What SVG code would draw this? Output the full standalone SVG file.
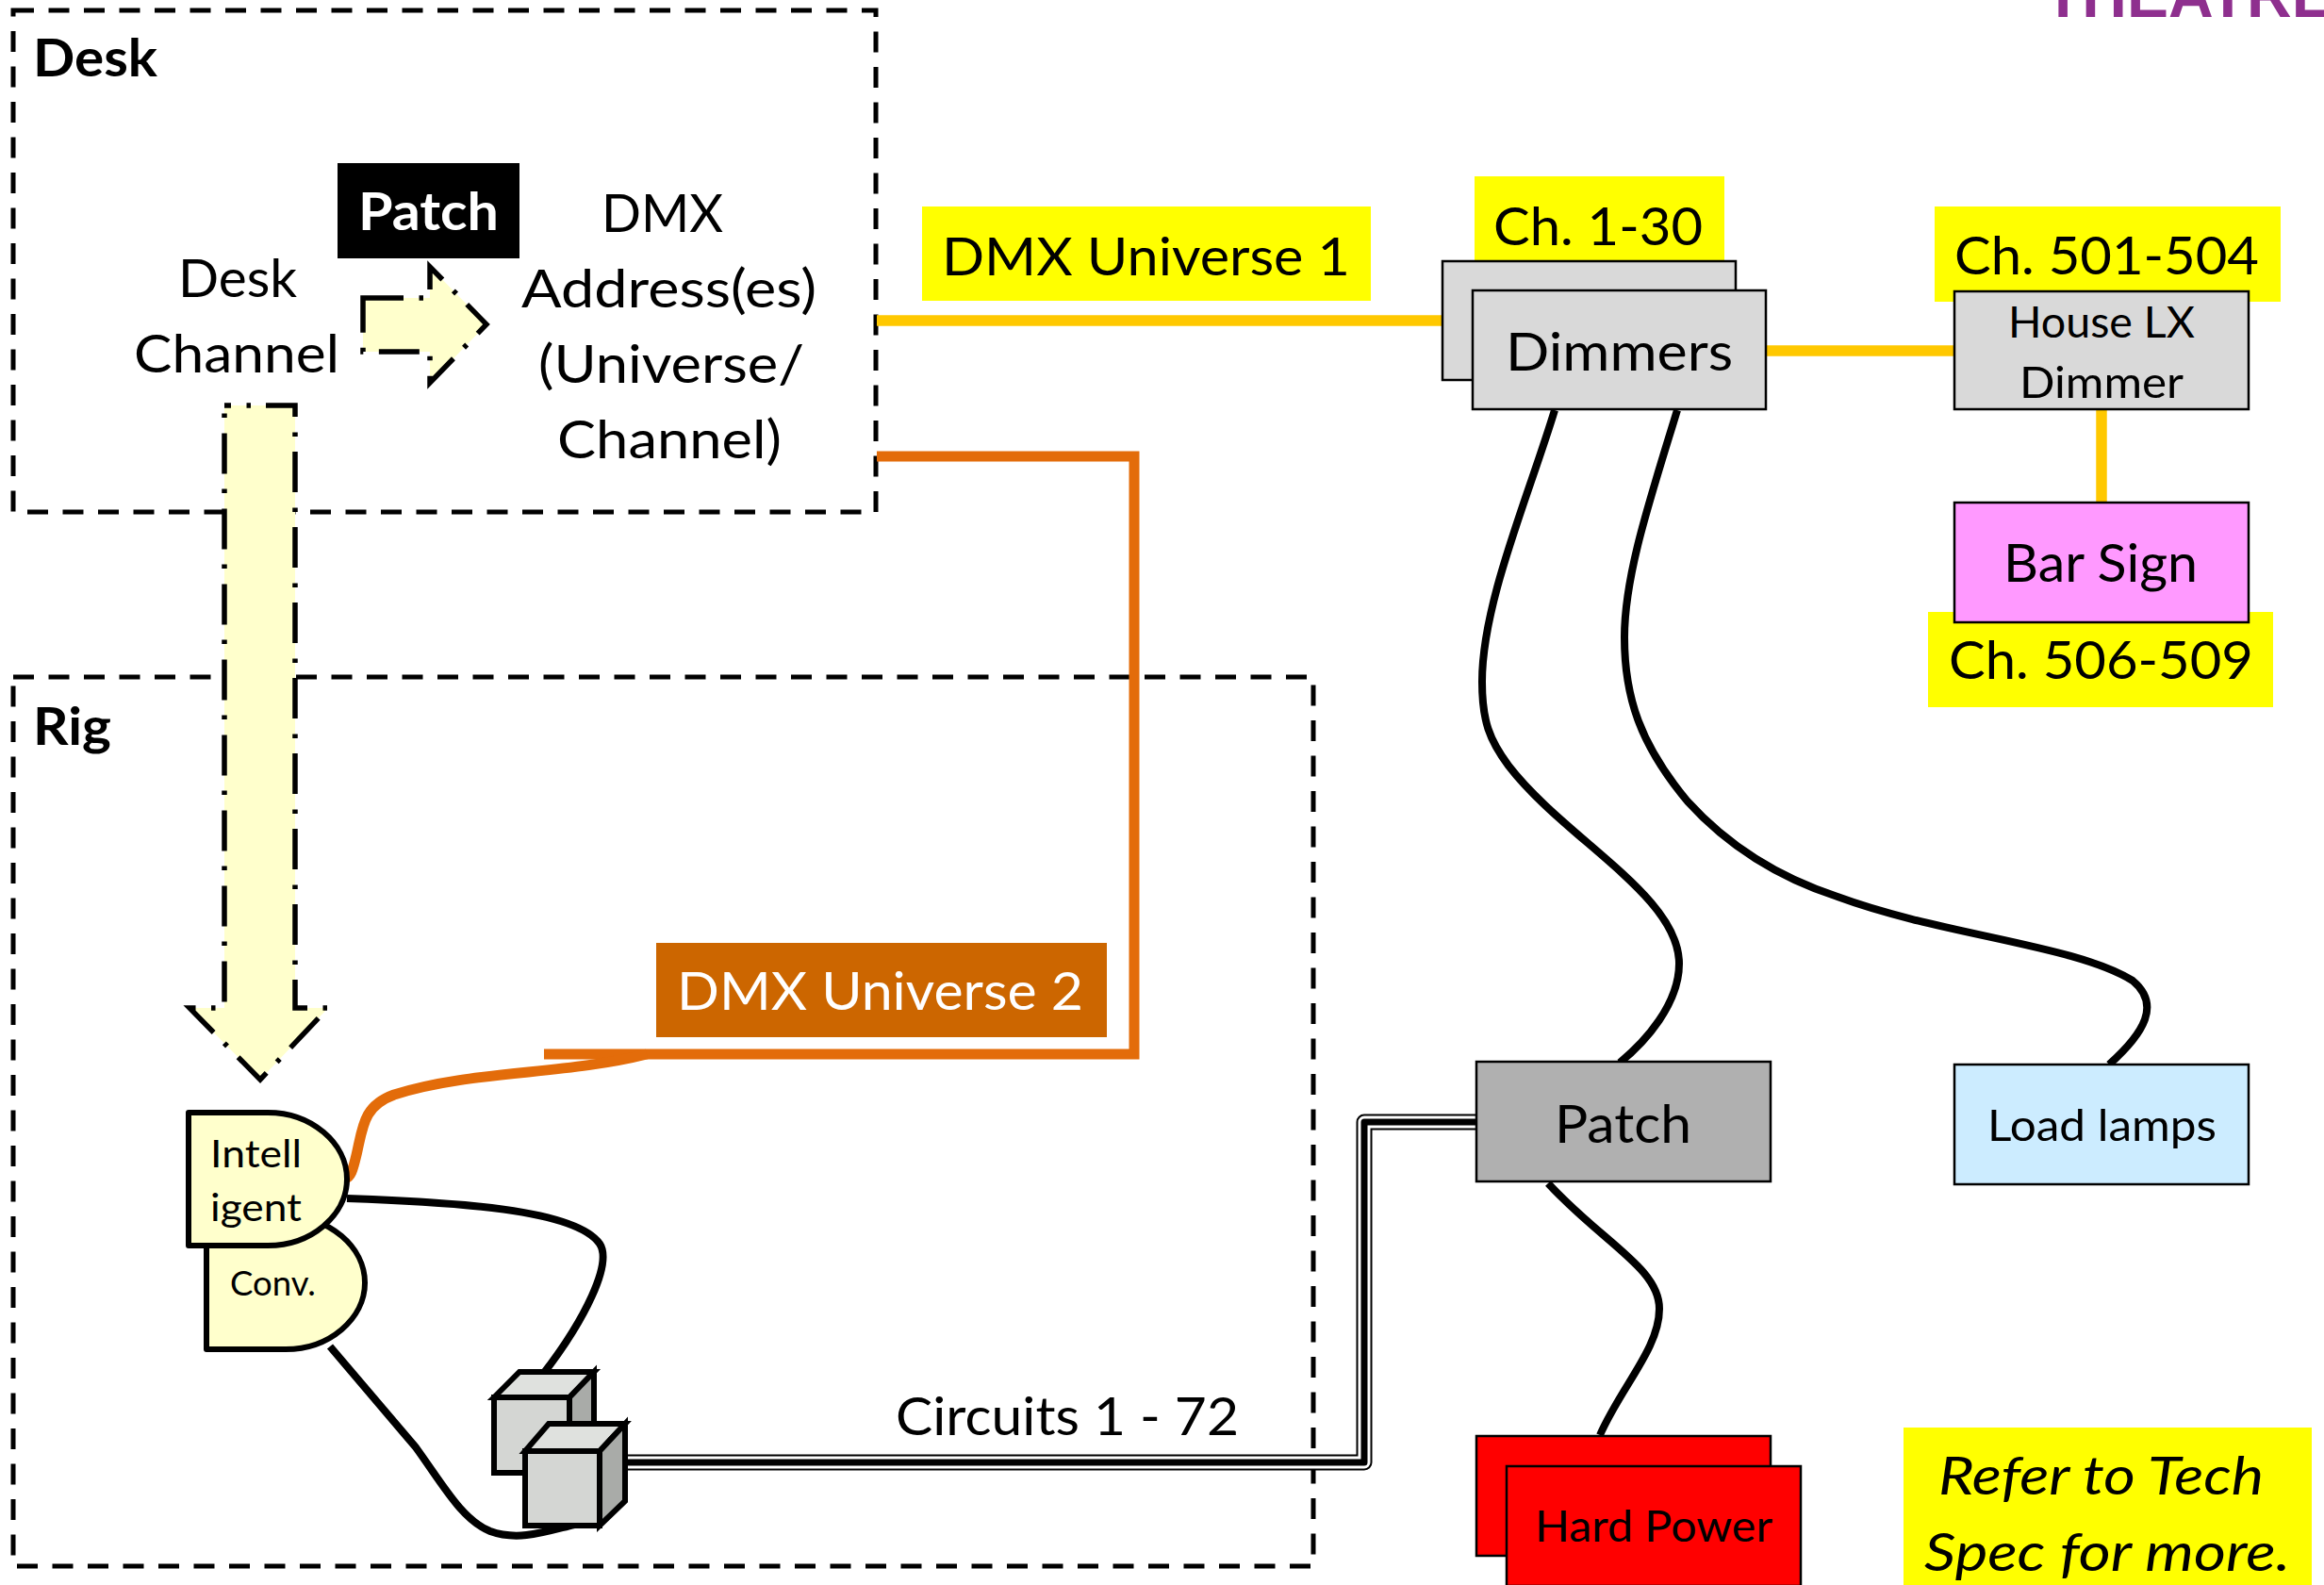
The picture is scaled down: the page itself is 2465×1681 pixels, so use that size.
<svg xmlns="http://www.w3.org/2000/svg" width="2465" height="1681" viewBox="0 0 2465 1681">
<style>
text{font-family:Lato,"Open Sans","Liberation Sans",sans-serif;fill:#000;font-size:56px}
.b{font-weight:700}
.s{font-size:47px}
.w{fill:#fff}
.zone{fill:none;stroke:#000;stroke-width:5;stroke-dasharray:22 15.5}
.arrow{fill:#FFFFCC;stroke:#000;stroke-width:5.5;stroke-dasharray:43 16.5 4.5 16}
.box{stroke:#000;stroke-width:2.5}
.cable{fill:none;stroke:#000;stroke-width:8}
.dmx1{fill:none;stroke:#FFC800;stroke-width:11.5}
.dmx2{fill:none;stroke:#E36C0A;stroke-width:11}
.hl{fill:#FFFF00}
.lamp{fill:#FFFFCC;stroke:#000;stroke-width:6;stroke-linejoin:round}
.face{fill:#D4D6D3;stroke:#000;stroke-width:6;stroke-linejoin:miter}
.top{fill:#DFE1DE;stroke:#000;stroke-width:6}
.side{fill:#A9ABA8;stroke:#000;stroke-width:6}
</style>
<text x="2168" y="17.500" class="b" style="font-family:'Liberation Sans',Arial,sans-serif;font-size:66px;fill:#8E2F8E">THEATRE</text>

<g id="zone-desk">
<rect class="zone" x="14" y="11" width="915" height="532"/>
<text class="b" x="35" y="81" textLength="132" lengthAdjust="spacingAndGlyphs">Desk</text>
</g>
<g id="zone-rig">
<rect class="zone" x="14" y="718" width="1379" height="943"/>
<text class="b" x="35" y="790" textLength="83" lengthAdjust="spacingAndGlyphs">Rig</text>
</g>

<g id="connectors">
<path class="dmx1" d="M930 340H1530"/>
<path class="dmx1" d="M1873 372H2072"/>
<path class="dmx1" d="M2229 434V533"/>
<path class="dmx2" d="M930 484H1203V1118H577"/>
<path class="dmx2" d="M686 1118C600 1140 500 1135 418 1161C385 1173 385 1195 378 1225C374 1242 372 1248 366 1250"/>
<path class="cable" d="M368 1271C480 1275 610 1282 636 1319C650 1340 620 1400 577 1456"/>
<path class="cable" d="M350 1428L441 1535C470 1575 490 1612 520 1624C550 1635 580 1624 609 1617"/>
<path class="cable" d="M1649 435C1620 530 1572 640 1572 723C1572 765 1580 785 1600 812C1660 890 1781 950 1781 1022C1781 1065 1745 1105 1718 1127"/>
<path class="cable" d="M1779 435C1750 530 1723 610 1723 676C1723 740 1740 790 1790 850C1840 905 1900 935 1949 951C2060 992 2201 1002 2262 1040C2292 1065 2275 1095 2237 1129"/>
<path class="cable" d="M1642 1255C1700 1318 1760 1345 1760 1388C1760 1430 1720 1470 1697 1522"/>
<g id="circuits" fill="none" stroke-linejoin="round">
<path d="M664 1551H1447V1190H1566" stroke="#000" stroke-width="17"/>
<path d="M664 1551H1447V1190H1566" stroke="#fff" stroke-width="13"/>
<path d="M664 1551H1447V1190H1566" stroke="#000" stroke-width="7"/>
</g>
</g>

<g id="desk-channel">
<text x="189" y="315" textLength="126" lengthAdjust="spacingAndGlyphs">Desk</text>
<text x="142" y="395" textLength="218" lengthAdjust="spacingAndGlyphs">Channel</text>
</g>
<g id="patch-arrow">
<path class="arrow" d="M385 316H456V283L516 344L456 406V373H385Z"/>
</g>
<g id="patch-label">
<rect x="358" y="173" width="193" height="101" fill="#000"/>
<text class="b w" x="380" y="244" textLength="149" lengthAdjust="spacingAndGlyphs">Patch</text>
</g>
<g id="dmx-address">
<text x="638" y="246" textLength="129" lengthAdjust="spacingAndGlyphs">DMX</text>
<text x="553" y="326" textLength="313" lengthAdjust="spacingAndGlyphs">Address(es)</text>
<text x="571" y="406" textLength="282" lengthAdjust="spacingAndGlyphs">(Universe/</text>
<text x="591" y="486" textLength="238" lengthAdjust="spacingAndGlyphs">Channel)</text>
</g>
<g id="channel-arrow">
<path class="arrow" stroke-dashoffset="36" style="stroke-dashoffset:36" d="M238 430H313V1069H348L276 1145L201 1069H238Z"/>
</g>

<g id="dmx-universe-1">
<rect class="hl" x="978" y="219" width="476" height="100"/>
<text x="999" y="292" textLength="433" lengthAdjust="spacingAndGlyphs">DMX Universe 1</text>
</g>
<g id="dmx-universe-2">
<rect x="696" y="1000" width="478" height="100" fill="#CC6600"/>
<text class="w" x="718" y="1071" textLength="431" lengthAdjust="spacingAndGlyphs">DMX Universe 2</text>
</g>
<text id="circuits-label" x="950" y="1522" textLength="364" lengthAdjust="spacingAndGlyphs">Circuits 1 - 72</text>

<g id="lamp-conv">
<path class="lamp" d="M219 1290H303C349 1290 387 1322 387 1360.500C387 1399 349 1431 303 1431H219Z"/>
<text x="244" y="1374" style="font-size:37px" textLength="91" lengthAdjust="spacingAndGlyphs">Conv.</text>
</g>
<g id="lamp-intelligent">
<path class="lamp" d="M200 1180H284C330 1180 368 1212 368 1250.500C368 1289 330 1321 284 1321H200Z"/>
<text x="223" y="1238" style="font-size:41px" textLength="97" lengthAdjust="spacingAndGlyphs">Intell</text>
<text x="223" y="1295" style="font-size:41px" textLength="97" lengthAdjust="spacingAndGlyphs">igent</text>
</g>

<g id="cube-back">
<path class="top" d="M524 1482L551 1455H630L604 1482Z"/>
<path class="side" d="M604 1482L630 1455V1540L604 1562Z"/>
<rect class="face" x="524" y="1482" width="80" height="80"/>
</g>
<g id="cube-front">
<path class="top" d="M557 1539L582 1510H663L636 1539Z"/>
<path class="side" d="M636 1539L663 1510V1592L636 1618Z"/>
<rect class="face" x="557" y="1539" width="79" height="79"/>
</g>

<g id="dimmers">
<rect class="hl" x="1564" y="187" width="265" height="95"/>
<text x="1584" y="260" textLength="222" lengthAdjust="spacingAndGlyphs">Ch. 1-30</text>
<rect class="box" x="1530" y="277" width="311" height="126" fill="#D9D9D9"/>
<rect class="box" x="1562" y="308" width="311" height="126" fill="#D9D9D9"/>
<text x="1597" y="393" textLength="241" lengthAdjust="spacingAndGlyphs">Dimmers</text>
</g>
<g id="house-lx">
<rect class="hl" x="2052" y="219" width="367" height="101"/>
<text x="2073" y="291" textLength="323" lengthAdjust="spacingAndGlyphs">Ch. 501-504</text>
<rect class="box" x="2073" y="309" width="312" height="125" fill="#D9D9D9"/>
<text class="s" x="2130" y="358" textLength="198" lengthAdjust="spacingAndGlyphs">House LX</text>
<text class="s" x="2142" y="422" textLength="174" lengthAdjust="spacingAndGlyphs">Dimmer</text>
</g>
<g id="bar-sign">
<rect class="hl" x="2045" y="649" width="366" height="101"/>
<text x="2067" y="720" textLength="323" lengthAdjust="spacingAndGlyphs">Ch. 506-509</text>
<rect class="box" x="2073" y="533" width="312" height="127" fill="#FF99FF"/>
<text x="2125" y="617" textLength="206" lengthAdjust="spacingAndGlyphs">Bar Sign</text>
</g>
<g id="patch">
<rect class="box" x="1566" y="1126" width="312" height="127" fill="#B0B0B0"/>
<text x="1649" y="1212" textLength="145" lengthAdjust="spacingAndGlyphs">Patch</text>
</g>
<g id="load-lamps">
<rect class="box" x="2073" y="1129" width="312" height="127" fill="#CCECFF"/>
<text class="s" x="2108" y="1210" textLength="243" lengthAdjust="spacingAndGlyphs">Load lamps</text>
</g>
<g id="hard-power">
<rect class="box" x="1566" y="1523" width="312" height="127" fill="#FF0000"/>
<rect class="box" x="1598" y="1555" width="312" height="127" fill="#FF0000"/>
<text class="s" x="1628" y="1635" textLength="252" lengthAdjust="spacingAndGlyphs">Hard Power</text>
</g>
<g id="note">
<rect class="hl" x="2019" y="1514" width="433" height="167"/>
<text x="2056" y="1585" font-style="italic" textLength="345" lengthAdjust="spacingAndGlyphs">Refer to Tech</text>
<text x="2041" y="1666" font-style="italic" textLength="388" lengthAdjust="spacingAndGlyphs">Spec for more.</text>
</g>
</svg>
